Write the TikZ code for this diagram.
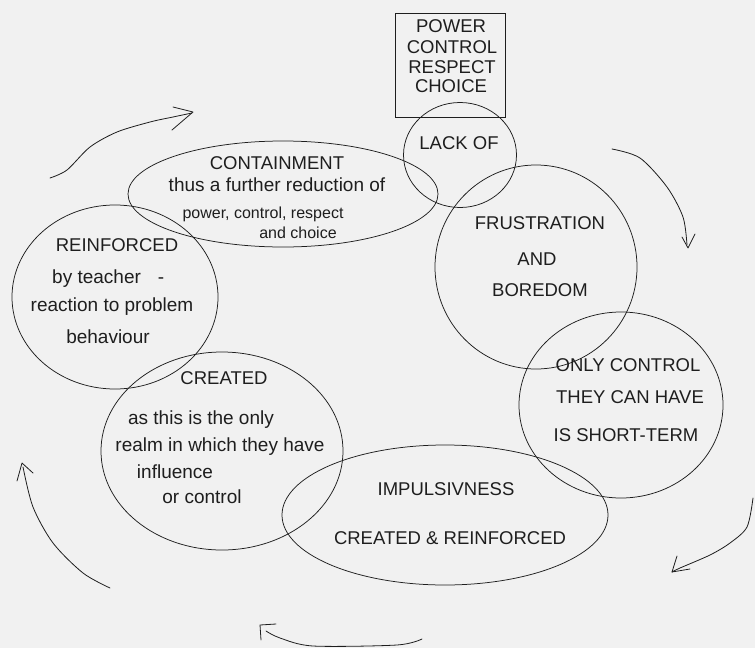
\documentclass[tikz,border=0pt]{standalone}
\usepackage{fontspec}
\setmainfont{Liberation Sans}
\usetikzlibrary{shapes.geometric}
\definecolor{paper}{RGB}{241,241,241}
\definecolor{ink}{RGB}{30,30,30}
\begin{document}
\begin{tikzpicture}[x=1pt,y=-1pt,
  ring/.style={draw=ink, line width=0.75pt, ellipse, inner sep=0pt, outer sep=0pt},
  uptext/.style={font=\fontsize{18.5}{20}\selectfont, text=ink, inner sep=0pt, text height=13.2pt, text depth=0pt},
  lowtext/.style={font=\fontsize{19}{21}\selectfont, text=ink, inner sep=0pt, text height=13.6pt, text depth=0pt},
  smalltext/.style={font=\fontsize{16}{18}\selectfont, text=ink, inner sep=0pt, text height=11.5pt, text depth=0pt},
  hand/.style={draw=ink, line width=0.8pt, line cap=round, line join=round}]
\fill[paper] (0,0) rectangle (755,648);
\useasboundingbox (0,0) rectangle (755,648);

% box
\node[draw=ink, line width=0.75pt, minimum width=110pt, minimum height=104pt, inner sep=0pt] (box) at (450,65) {};
\node[uptext] (t1) at (451,26) {POWER};
\node[uptext] (t2) at (452,47) {CONTROL};
\node[uptext] (t3) at (452,67) {RESPECT};
\node[uptext] (t4) at (451,86) {CHOICE};

% ellipses
\node[ring, minimum width=113pt, minimum height=105pt] (lack) at (460,155) {};
\node[ring, minimum width=310pt, minimum height=106pt] (contain) at (283,194) {};
\node[ring, minimum width=202pt, minimum height=204pt] (frust) at (536,267) {};
\node[ring, minimum width=206pt, minimum height=184pt] (reinf) at (115,297) {};
\node[ring, minimum width=204pt, minimum height=186pt] (only) at (621,405) {};
\node[ring, minimum width=242pt, minimum height=198pt] (created) at (222,451) {};
\node[ring, minimum width=326pt, minimum height=140pt] (impuls) at (445,515) {};

% texts
\node[uptext] (lk) at (459,143) {LACK OF};

\node[uptext] (c1) at (277,163) {CONTAINMENT};
\node[lowtext] (c2) at (277,185) {thus a further reduction of};
\node[smalltext] (c3) at (263,213) {power, control, respect};
\node[smalltext] (c4) at (298,233) {and choice};

\node[uptext] (f1) at (540,223) {FRUSTRATION};
\node[uptext] (f2) at (537,259) {AND};
\node[uptext] (f3) at (540,290) {BOREDOM};

\node[uptext] (r1) at (117,245) {REINFORCED};
\node[lowtext, anchor=west] (r2) at (52,277) {by teacher\hspace{17pt}-};
\node[lowtext] (r3) at (112,305) {reaction to problem};
\node[lowtext] (r4) at (108,337) {behaviour};

\node[uptext] (o1) at (628,365) {ONLY CONTROL};
\node[uptext] (o2) at (630,397) {THEY CAN HAVE};
\node[uptext] (o3) at (626,435) {IS SHORT-TERM};

\node[uptext] (k1) at (224,378) {CREATED};
\node[lowtext] (k2) at (201,418) {as this is the only};
\node[lowtext] (k3) at (220,445) {realm in which they have};
\node[lowtext] (k4) at (175,472) {influence};
\node[lowtext] (k5) at (202,497) {or control};

\node[uptext] (i1) at (446,489) {IMPULSIVNESS};
\node[uptext] (i2) at (450,538) {CREATED \& REINFORCED};

% hand-drawn cycle arrows
\draw[hand] plot[smooth] coordinates {(50,178) (67,170) (90,147) (117,132) (150,122) (173,117) (192,113)};
\draw[hand] (173,107) -- (193,112) -- (172,130);

\draw[hand] plot[smooth] coordinates {(612,149) (640,158) (667,187) (683,217) (687,245)};
\draw[hand] (682,237) -- (688,248) -- (695,234);

\draw[hand] plot[smooth] coordinates {(753,498) (747,527) (730,543) (710,555) (680,568) (672,572)};
\draw[hand] (677,556) -- (672,572) -- (690,569);

\draw[hand] plot[smooth] coordinates {(422,639) (397,645) (313,646) (280,638) (266,631)};
\draw[hand] (276,624) -- (260,625) -- (261,640);

\draw[hand] plot[smooth] coordinates {(110,588) (83,573) (53,543) (33,507) (23,467)};
\draw[hand] (17,481) -- (22,463) -- (33,473);
\end{tikzpicture}
\end{document}
